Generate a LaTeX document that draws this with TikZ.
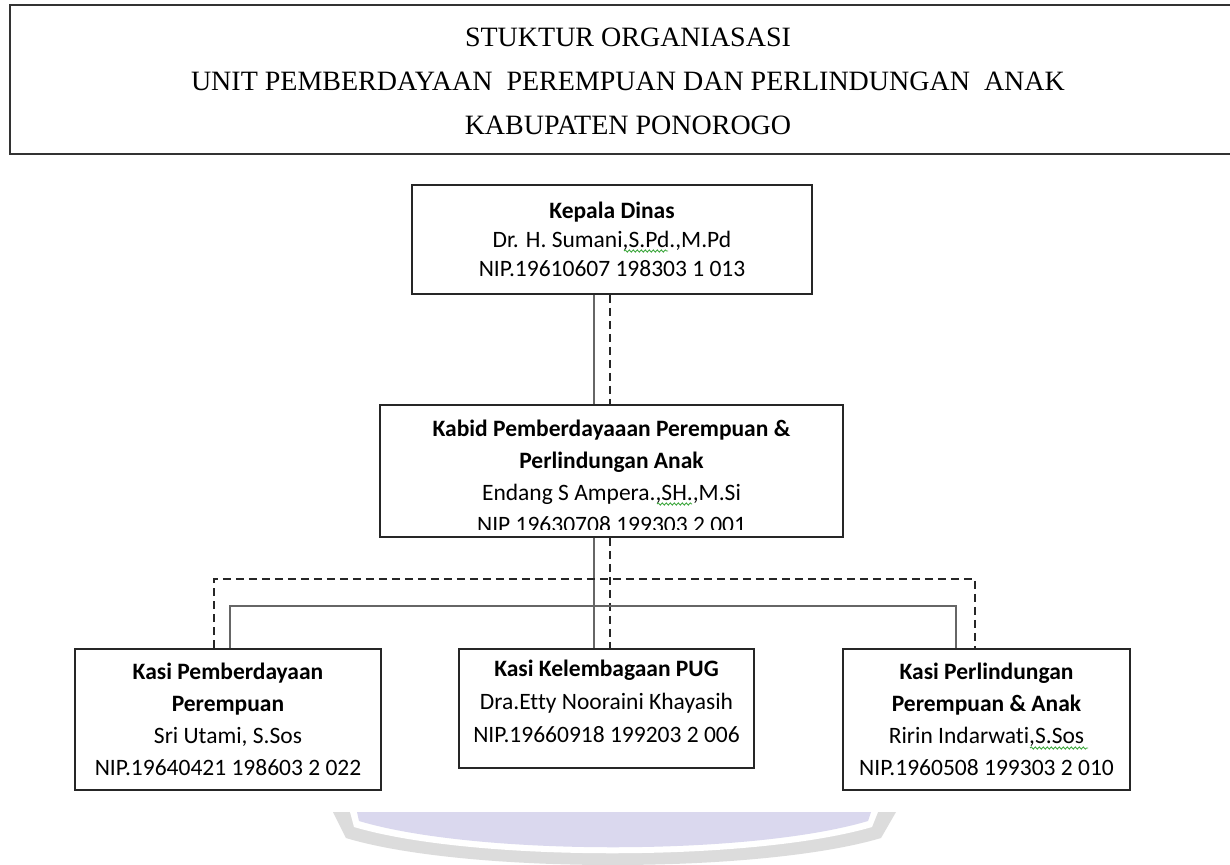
\documentclass[tikz,border=0pt]{standalone}
\usepackage{fontspec}
\setmainfont{Carlito}[Ligatures=NoCommon]
\newfontfamily\ttlfont{Liberation Serif}
\usetikzlibrary{decorations.pathmorphing}
\definecolor{wmgray}{HTML}{DCDCDC}
\definecolor{wmlav}{HTML}{DAD8EE}
\definecolor{spellgreen}{HTML}{3FA83F}
\begin{document}
\begin{tikzpicture}[x=1pt,y=-1pt,
  box/.style={draw=black!85,line width=1.8pt,inner sep=0pt,align=center},
  info/.style={font=\fontsize{23.5}{32}\selectfont,align=center,inner sep=0pt},
  solidc/.style={draw=black!60,line width=2.8pt},
  dashc/.style={draw=black!85,line width=1.8pt,dash pattern=on 8pt off 5pt},
  spell/.style={draw=spellgreen,line width=0.9pt,decorate,decoration={snake,segment length=4pt,amplitude=1.1pt}},
  ttl/.style={font=\ttlfont\fontsize{28}{34}\selectfont,inner sep=0pt,anchor=base}
]
\useasboundingbox (0,0) rectangle (1230,864);
\fill[white] (0,0) rectangle (1230,864);

% watermark
\fill[wmgray] (333,812) -- (896,812) -- (881,838) .. controls (760,874) and (465,874) .. (346,838) -- cycle;
\fill[white] (350,812) -- (878,812) -- (872,827) .. controls (752,862) and (472,862) .. (354,827) -- cycle;
\fill[wmlav] (357,812) -- (871,812) -- (868,821) .. controls (750,856) and (476,856) .. (359,821) -- cycle;

% title box
\draw[draw=black!80,line width=2.5pt] (1230,5) -- (10,5) -- (10,154) -- (1230,154);
\node[ttl] (t1) at (628,47) {STUKTUR ORGANIASASI};
\node[ttl] (t2) at (628,91) {UNIT PEMBERDAYAAN\ \ PEREMPUAN DAN PERLINDUNGAN\ \ ANAK};
\node[ttl] (t3) at (628,134) {KABUPATEN PONOROGO};

% boxes
\node[box,info,font=\fontsize{23.5}{29}\selectfont,minimum width=400pt,minimum height=109pt] (kepala) at (612,239.5)
  {\textbf{Kepala Dinas}\\Dr. H. Sumani,S.Pd.,M.Pd\\NIP.19610607 198303 1 013};

\node[box,minimum width=463pt,minimum height=132pt] (kabid) at (611.5,471) {};
\begin{scope}
\clip (380,405) rectangle (843,529.5);
\node[info] (kabidtext) at (611.5,476.2)
  {\textbf{Kabid Pemberdayaaan Perempuan \&}\\\textbf{Perlindungan Anak}\\Endang S Ampera.,SH.,M.Si\\NIP 19630708 199303 2 001};
\end{scope}

\node[box,info,minimum width=306pt,minimum height=141pt] (left) at (228,719.5)
  {\textbf{Kasi Pemberdayaan}\\\textbf{Perempuan}\\Sri Utami, S.Sos\\NIP.19640421 198603 2 022};

\node[box,minimum width=295pt,minimum height=119pt] (mid) at (606.5,708.5) {};
\node[info,font=\fontsize{23.5}{33}\selectfont] (midtext) at ([yshift=7pt]mid.center)
  {\textbf{Kasi Kelembagaan PUG}\\Dra.Etty Nooraini Khayasih\\NIP.19660918 199203 2 006};

\node[box,info,minimum width=287pt,minimum height=141pt] (right) at (986.5,719.5)
  {\textbf{Kasi Perlindungan}\\\textbf{Perempuan \& Anak}\\Ririn Indarwati,S.Sos\\NIP.1960508 199303 2 010};

% connector guides
\coordinate (sx) at (594,0);
\coordinate (dx) at (610,0);
\coordinate (hs) at (0,606);
\coordinate (hd) at (0,579);
\coordinate (lsx) at (230,0);
\coordinate (ldx) at (214,0);
\coordinate (rsx) at (956,0);
\coordinate (rdx) at (975,0);

\draw[solidc] (kepala.south -| sx) -- (kabid.north -| sx);
\draw[dashc] (kepala.south -| dx) -- (kabid.north -| dx);
\draw[solidc] (kabid.south -| sx) -- (mid.north -| sx);
\draw[dashc] (kabid.south -| dx) -- (mid.north -| dx);
\draw[solidc] (left.north -| lsx) -- (lsx |- hs) -- (rsx |- hs) -- (right.north -| rsx);
\draw[dashc] (left.north -| ldx) -- (ldx |- hd) -- (rdx |- hd) -- (right.north -| rdx);

% spell-check marks
\draw[spell] (624,251) -- (668,251);
\draw[spell] (657,504) -- (692,504);
\draw[spell] (1030,748) -- (1088,748);
\end{tikzpicture}
\end{document}
